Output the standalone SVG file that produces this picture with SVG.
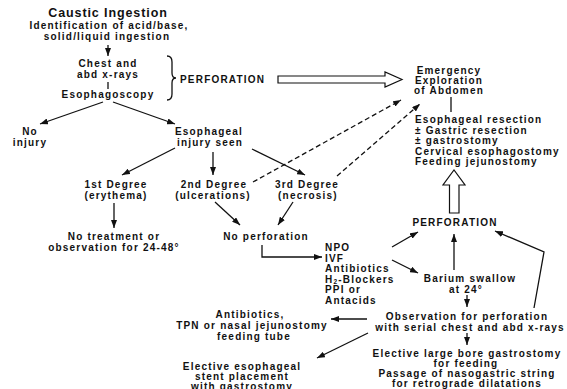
<svg xmlns="http://www.w3.org/2000/svg" width="567" height="389" viewBox="0 0 567 389">
<defs>
<style>
text{font-family:"Liberation Sans",Arial,Helvetica,sans-serif;font-weight:bold;font-size:10px;letter-spacing:1.2px;fill:#111}
.c{text-anchor:middle}
.t{font-size:12.5px;letter-spacing:0.9px}
.ln{stroke:#111;stroke-width:1.3;fill:none}
.ar{stroke:#111;stroke-width:1.3;fill:none;marker-end:url(#ah)}
.da{stroke:#111;stroke-width:1.3;fill:none;stroke-dasharray:5,3;marker-end:url(#ah)}
.ho{stroke:#111;stroke-width:1.2;fill:#fff}
</style>
<marker id="ah" markerUnits="userSpaceOnUse" markerWidth="8" markerHeight="6" refX="8" refY="3" orient="auto">
<path d="M0,0 L8,3 L0,6 z" fill="#111"/>
</marker>
</defs>
<rect width="567" height="389" fill="#fff"/>

<g id="start">
<text class="c t" x="108" y="17">Caustic Ingestion</text>
<text class="c" x="109" y="29">Identification of acid/base,</text>
<text class="c" x="107" y="39.5">solid/liquid ingestion</text>
</g>
<g id="xray">
<text class="c" x="108" y="67">Chest and</text>
<text class="c" x="108" y="77.5">abd x-rays</text>
<text class="c" x="108" y="98">Esophagoscopy</text>
</g>
<g id="perf1">
<path class="ln" d="M167,56 Q172,56 172,62 L172,73 Q172,78 176,78 Q172,78 172,83 L172,94 Q172,100 167,100"/>
<text x="180" y="83">PERFORATION</text>
</g>
<g id="emergency">
<text class="c" x="449" y="74">Emergency</text>
<text class="c" x="449" y="84">Exploration</text>
<text class="c" x="449" y="94">of Abdomen</text>
</g>
<g id="resection">
<text x="415" y="123">Esophageal resection</text>
<text x="415" y="133.5">± Gastric resection</text>
<text x="415" y="144">± gastrostomy</text>
<text x="415" y="155">Cervical esophagostomy</text>
<text x="415" y="165">Feeding jejunostomy</text>
</g>
<g id="noinjury">
<text class="c" x="30" y="135">No</text>
<text class="c" x="30" y="146">injury</text>
</g>
<g id="injury">
<text class="c" x="209" y="135">Esophageal</text>
<text class="c" x="210" y="146">injury seen</text>
</g>
<g id="deg1">
<text class="c" x="116" y="188">1st Degree</text>
<text class="c" x="116" y="199">(erythema)</text>
</g>
<g id="deg2">
<text class="c" x="214" y="188">2nd Degree</text>
<text class="c" x="213" y="199">(ulcerations)</text>
</g>
<g id="deg3">
<text class="c" x="307" y="188">3rd Degree</text>
<text class="c" x="308" y="199">(necrosis)</text>
</g>
<g id="notreat">
<text class="c" x="114" y="240">No treatment or</text>
<text class="c" x="114" y="250.5">observation for 24-48°</text>
</g>
<g id="noperf">
<text class="c" x="266" y="240">No perforation</text>
</g>
<g id="npo">
<text x="325" y="251">NPO</text>
<text x="325" y="261.5">IVF</text>
<text x="325" y="272">Antibiotics</text>
<text x="325" y="282.5">H<tspan font-size="6.5" dy="1.5">2</tspan><tspan dy="-1.5">-Blockers</tspan></text>
<text x="325" y="293">PPI or</text>
<text x="325" y="303.5">Antacids</text>
</g>
<g id="perf2">
<text class="c" x="455" y="226">PERFORATION</text>
</g>
<g id="barium">
<text class="c" x="470" y="282">Barium swallow</text>
<text class="c" x="466" y="292.5">at 24°</text>
</g>
<g id="observe">
<text class="c" x="467" y="320">Observation for perforation</text>
<text class="c" x="470" y="330.5">with serial chest and abd x-rays</text>
</g>
<g id="elective">
<text class="c" x="467" y="357">Elective large bore gastrostomy</text>
<text class="c" x="466" y="367">for feeding</text>
<text class="c" x="467" y="377">Passage of nasogastric string</text>
<text class="c" x="467" y="387">for retrograde dilatations</text>
</g>
<g id="tpn">
<text class="c" x="250" y="318">Antibiotics,</text>
<text class="c" x="252" y="329">TPN or nasal jejunostomy</text>
<text class="c" x="254" y="340">feeding tube</text>
</g>
<g id="stent">
<text class="c" x="242" y="369.5">Elective esophageal</text>
<text class="c" x="242" y="379.5">stent placement</text>
<text class="c" x="242" y="389.5">with gastrostomy</text>
</g>

<g id="connectors">
<line class="ar" x1="108" y1="45" x2="108" y2="56"/>
<line class="ln" x1="108" y1="82" x2="108" y2="89"/>
<polygon class="ho" points="278,76 385,76 385,72 402,79.5 385,87 385,83 278,83"/>
<line class="ln" x1="451" y1="97" x2="451" y2="112"/>
<polygon class="ho" points="449.5,213 449.5,185 443,185 454,170 465,185 459,185 459,213"/>
<line class="ar" x1="103" y1="102" x2="40" y2="124"/>
<line class="ar" x1="113" y1="102" x2="175" y2="124"/>
<line class="ar" x1="175" y1="148" x2="122" y2="175"/>
<line class="ar" x1="213" y1="152" x2="213" y2="175"/>
<line class="ar" x1="252" y1="149" x2="305" y2="175"/>
<line class="da" x1="253" y1="182" x2="401" y2="100"/>
<line class="da" x1="337" y1="176" x2="420" y2="104"/>
<line class="ar" x1="114" y1="203" x2="114" y2="228"/>
<line class="ar" x1="215" y1="202" x2="240" y2="225"/>
<line class="ar" x1="293" y1="202" x2="278" y2="225"/>
<polyline class="ar" points="262,245 262,257 322,257"/>
<line class="ar" x1="392" y1="247" x2="418" y2="232"/>
<line class="ar" x1="392" y1="260" x2="418" y2="273"/>
<line class="ar" x1="454" y1="270" x2="454" y2="234"/>
<line class="ar" x1="467" y1="295" x2="467" y2="307"/>
<line class="ar" x1="467" y1="333" x2="467" y2="345"/>
<polyline class="ar" points="534,308 544,252 495,231"/>
<line class="ar" x1="367" y1="319" x2="331" y2="319"/>
<line class="ar" x1="368" y1="333" x2="317" y2="358"/>
</g>
</svg>
